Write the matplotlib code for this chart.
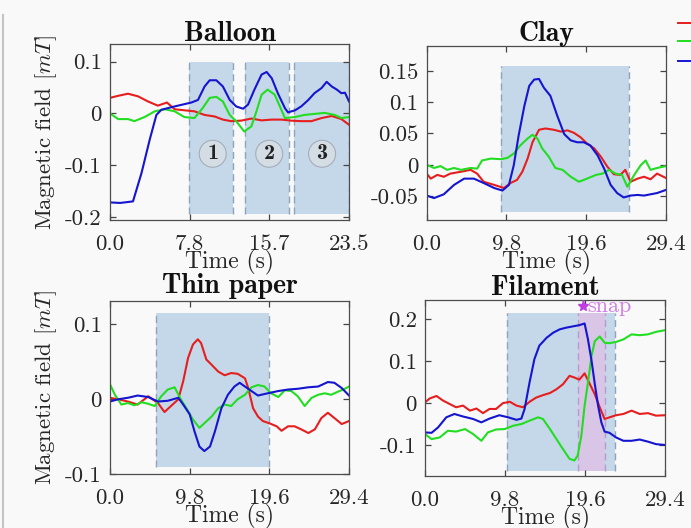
import matplotlib
matplotlib.use('Agg')
import matplotlib.pyplot as plt
from matplotlib.lines import Line2D

plt.rcParams['font.family'] = 'cmr10'
plt.rcParams['mathtext.fontset'] = 'cm'
plt.rcParams['axes.unicode_minus'] = False
plt.rcParams['font.size'] = 16.5

# couleurs des trois axes du capteur
c_red, c_green, c_blue = '#e61e1e', '#22dd22', '#1515d0'
span_col = '#c5d8ea'
span_edge = '#8ea4b9'
bg = '#f9f9f9'
txt_col = '#262626'

# --- Balloon ---
balloon_t_blue = [0.0, 1.0, 2.26, 3.1, 3.9, 4.56, 5.05, 6.36, 8.0, 8.65, 9.3, 9.8, 10.45, 11.1, 11.77,
                  12.4, 13.08, 13.57, 14.2, 14.9, 15.4, 15.9, 16.5, 17.2, 17.5, 18.2, 18.8, 19.5,
                  20.1, 20.8, 21.3, 21.8, 22.3, 22.75, 23.1, 23.5]
balloon_blue = [-0.172, -0.173, -0.170, -0.115, -0.051, -0.003, 0.007, 0.0135, 0.021, 0.026, 0.052,
                0.064, 0.064, 0.052, 0.026, 0.0135, 0.009, 0.017, 0.046, 0.075, 0.080, 0.068, 0.039,
                0.010, 0.002, 0.006, 0.0135, 0.026, 0.039, 0.049, 0.061, 0.052, 0.046, 0.039, 0.040, 0.023]
balloon_t_red = [0.0, 0.8, 1.77, 2.75, 3.74, 4.7, 5.6, 6.36, 7.3, 8.3, 9.3, 10.3, 11.1, 11.9, 12.9,
                 13.9, 14.9, 15.9, 16.85, 17.8, 18.8, 19.8, 20.8, 21.8, 22.75, 23.5]
balloon_red = [0.030, 0.034, 0.038, 0.033, 0.023, 0.015, 0.021, 0.008, 0.006, 0.004, -0.003, -0.006,
               -0.012, -0.015, -0.014, -0.010, -0.0135, -0.012, -0.012, -0.014, -0.015, -0.015,
               -0.009, -0.005, -0.011, -0.022]
balloon_t_green = [0.0, 0.8, 1.77, 2.4, 3.4, 4.4, 5.4, 6.36, 7.3, 8.3, 9.1, 9.8, 10.45, 11.1, 11.77,
                   12.4, 13.2, 13.9, 14.4, 14.9, 15.5, 16.2, 16.7, 17.2, 18.2, 19.1, 20.1, 21.1,
                   22.1, 22.75, 23.5]
balloon_green = [0.0, -0.011, -0.011, -0.015, -0.007, 0.004, 0.008, 0.004, -0.007, -0.009, 0.010,
                 0.030, 0.032, 0.023, -0.003, -0.015, -0.035, -0.025, 0.004, 0.036, 0.046, 0.036,
                 0.0135, -0.009, -0.007, -0.003, -0.001, 0.001, -0.003, -0.009, -0.007]
balloon_windows = [(7.8, 12.1), (13.3, 17.6), (18.1, 23.5)]
balloon_window_labels = ['1', '2', '3']
balloon_label_t = [10.1, 15.65, 20.85]

# --- Clay ---
clay_t_blue = [0.0, 0.9, 2.1, 3.36, 4.6, 5.8, 7.0, 8.3, 9.3, 10.1, 10.7, 11.3, 12.0, 12.6, 13.2, 13.8,
               14.4, 15.2, 16.05, 16.9, 17.7, 18.5, 19.3, 20.1, 21.0, 21.8, 22.6, 23.4, 24.2, 25.05,
               25.9, 26.7, 27.5, 28.3, 29.4]
clay_blue = [-0.049, -0.053, -0.047, -0.032, -0.022, -0.022, -0.029, -0.037, -0.041, -0.032, -0.0005,
             0.047, 0.094, 0.126, 0.136, 0.137, 0.123, 0.110, 0.078, 0.049, 0.039, 0.036, 0.036, 0.031,
             0.015, -0.006, -0.032, -0.045, -0.052, -0.049, -0.048, -0.049, -0.047, -0.045, -0.040]
clay_t_red = [0.0, 0.5, 1.3, 2.1, 2.9, 4.2, 5.4, 6.2, 7.0, 8.3, 9.5, 10.3, 11.1, 11.75, 12.4, 13.0,
              13.8, 14.6, 15.6, 16.5, 17.3, 18.1, 18.9, 19.7, 20.6, 21.4, 22.2, 23.0, 23.8, 24.4,
              25.05, 25.9, 26.7, 27.5, 28.3, 29.4]
clay_red = [-0.014, -0.022, -0.016, -0.019, -0.014, -0.011, -0.008, -0.014, -0.027, -0.032, -0.037,
            -0.029, -0.024, -0.011, 0.010, 0.036, 0.056, 0.058, 0.056, 0.053, 0.055, 0.051, 0.044,
            0.034, 0.026, 0.013, -0.003, -0.015, -0.016, -0.008, -0.027, -0.022, -0.019, -0.023,
            -0.014, -0.021]
clay_t_green = [0.0, 0.9, 1.7, 2.5, 3.36, 4.2, 5.4, 6.2, 6.8, 7.9, 9.1, 9.9, 10.7, 11.5, 12.4, 13.0,
                13.6, 14.2, 15.0, 15.8, 16.7, 17.7, 18.7, 19.7, 20.8, 21.6, 22.4, 23.2, 24.0, 24.65,
                25.5, 26.3, 26.9, 27.5, 28.3, 29.4]
clay_green = [0.0, -0.005, -0.002, -0.008, -0.005, -0.008, -0.005, -0.006, 0.007, 0.010, 0.009, 0.011,
              0.018, 0.031, 0.042, 0.048, 0.042, 0.026, 0.013, -0.005, -0.008, -0.019, -0.027, -0.022,
              -0.016, -0.014, -0.008, -0.014, -0.016, -0.035, -0.016, -0.0005, 0.007, -0.008, -0.005,
              -0.002]
clay_windows = [(9.1, 24.9)]

# --- Thin paper ---
paper_t_blue = [0.0, 1.0, 2.2, 3.4, 4.7, 5.9, 7.1, 8.4, 9.0, 9.8, 10.4, 11.0, 11.6, 12.3, 12.9, 13.7,
                14.5, 15.3, 15.95, 16.6, 17.4, 18.2, 19.4, 20.7, 21.9, 23.1, 24.4, 25.6, 26.8, 27.6,
                28.5, 29.4]
paper_blue = [-0.003, 0.0, 0.002, 0.005, 0.003, -0.003, -0.002, 0.002, -0.007, -0.020, -0.043, -0.063,
              -0.069, -0.063, -0.043, -0.012, 0.006, 0.017, 0.022, 0.017, 0.011, 0.005, 0.008, 0.011,
              0.013, 0.014, 0.016, 0.017, 0.023, 0.022, 0.015, 0.005]
paper_t_red = [0.0, 1.0, 2.2, 3.4, 4.7, 5.9, 6.7, 7.5, 8.4, 9.0, 9.6, 10.2, 10.8, 11.2, 11.85, 12.5,
               13.3, 14.1, 14.9, 15.7, 16.6, 17.0, 17.6, 18.2, 18.8, 19.6, 20.5, 21.1, 21.9, 22.7,
               23.5, 24.4, 25.2, 26.0, 26.8, 27.6, 28.5, 29.4]
paper_red = [0.002, 0.0, -0.003, -0.007, 0.004, -0.005, -0.017, -0.009, 0.0, 0.024, 0.055, 0.073,
             0.080, 0.075, 0.053, 0.046, 0.037, 0.032, 0.035, 0.034, 0.028, 0.015, -0.012, -0.023,
             -0.029, -0.032, -0.036, -0.042, -0.036, -0.036, -0.040, -0.045, -0.040, -0.025, -0.018,
             -0.025, -0.033, -0.029]
paper_t_green = [0.0, 0.6, 1.4, 2.2, 3.0, 3.9, 4.7, 5.5, 6.3, 7.1, 7.95, 8.6, 9.4, 10.2, 11.0, 11.6,
                 12.5, 13.3, 14.1, 14.9, 15.7, 16.6, 17.4, 18.2, 19.0, 19.8, 20.7, 21.5, 22.3, 23.1,
                 23.95, 24.8, 25.6, 26.4, 27.2, 28.0, 28.7, 29.4]
paper_green = [0.020, 0.006, -0.007, -0.005, -0.008, -0.004, -0.006, -0.009, 0.004, 0.013, 0.016,
               0.002, -0.012, -0.027, -0.038, -0.032, -0.023, -0.012, -0.007, -0.009, 0.0, 0.006,
               0.016, 0.019, 0.017, 0.008, 0.003, 0.012, 0.011, 0.004, -0.009, 0.002, 0.006, 0.008,
               0.006, 0.010, 0.013, 0.017]
paper_windows = [(5.66, 19.56)]

# --- Filament ---
fil_t_blue = [0.0, 0.8, 1.6, 2.6, 3.6, 4.65, 5.9, 6.9, 7.9, 9.1, 10.2, 11.2, 11.8, 12.2, 12.8, 13.4,
              14.0, 14.9, 15.7, 16.5, 17.3, 18.1, 18.9, 19.55, 19.96, 20.4, 20.8, 21.2, 21.6, 22.0,
              22.6, 23.4, 24.3, 25.3, 26.3, 27.3, 28.3, 29.4]
fil_blue = [-0.070, -0.071, -0.058, -0.034, -0.026, -0.032, -0.038, -0.046, -0.037, -0.029, -0.034,
            -0.040, -0.037, -0.014, 0.049, 0.105, 0.137, 0.156, 0.168, 0.176, 0.180, 0.183, 0.186,
            0.190, 0.152, 0.101, 0.045, -0.006, -0.046, -0.068, -0.071, -0.082, -0.090, -0.090,
            -0.087, -0.092, -0.098, -0.100]
fil_t_red = [0.0, 0.57, 1.4, 2.2, 3.0, 3.8, 4.65, 5.5, 6.3, 7.1, 7.9, 8.7, 9.55, 10.4, 11.2, 12.0,
             12.8, 13.6, 14.45, 15.3, 16.1, 16.9, 17.7, 18.3, 18.9, 19.55, 20.2, 20.8, 21.4, 22.0,
             22.6, 23.4, 24.3, 25.3, 26.3, 27.3, 28.3, 29.4]
fil_red = [0.002, 0.011, 0.017, 0.006, -0.002, -0.010, -0.006, -0.018, -0.013, -0.024, -0.014, -0.014,
           0.0, 0.003, -0.006, -0.010, 0.003, 0.013, 0.019, 0.024, 0.033, 0.045, 0.065, 0.061, 0.056,
           0.071, 0.045, 0.021, -0.010, -0.038, -0.034, -0.029, -0.026, -0.018, -0.026, -0.024,
           -0.030, -0.029]
fil_t_green = [0.0, 0.8, 1.8, 2.8, 3.8, 4.9, 5.9, 6.9, 7.7, 8.7, 9.76, 10.8, 11.8, 12.8, 13.85, 14.45,
               15.3, 16.1, 16.9, 17.7, 18.3, 18.7, 19.15, 19.55, 19.96, 20.4, 20.8, 21.4, 22.0, 22.6,
               23.4, 24.3, 25.3, 26.3, 27.3, 28.3, 29.4]
fil_green = [-0.074, -0.086, -0.082, -0.066, -0.068, -0.062, -0.074, -0.090, -0.070, -0.063, -0.062,
             -0.054, -0.050, -0.042, -0.034, -0.038, -0.062, -0.086, -0.110, -0.133, -0.137, -0.125,
             -0.078, -0.006, 0.049, 0.113, 0.148, 0.159, 0.144, 0.143, 0.146, 0.152, 0.164, 0.162,
             0.164, 0.170, 0.174]
fil_windows = [(10.0, 23.3)]
snap_window = (18.7, 22.05)
snap_t, snap_v = 19.4, 0.232


def style_axes(ax, xlim, xticks, xlabels, ylim, yticks, ylabels):
    ax.set_facecolor(bg)
    ax.set_xlim(xlim)
    ax.set_ylim(ylim)
    ax.set_xticks(xticks, xlabels)
    ax.set_yticks(yticks, ylabels)
    ax.tick_params(direction='in', top=True, right=True, length=4, width=0.9,
                   color='#444444', labelcolor=txt_col, labelsize=16.5)
    ax.tick_params(axis='x', pad=10.5)
    ax.tick_params(axis='y', pad=6)
    for s in ax.spines.values():
        s.set_color('#4d4d4d')
        s.set_linewidth(0.9)
    ax.set_xlabel('Time (s)', color=txt_col, labelpad=-3, fontsize=17)


def windows(ax, wins, lo, hi, fc=span_col, ec=span_edge):
    for a, b in wins:
        ax.fill_between([a, b], lo, hi, color=fc, lw=0, zorder=0.5)
        ax.vlines([a, b], lo, hi, colors=ec, linestyles=(0, (5, 3)), lw=1.0, zorder=0.6)


def traces(ax, tr, r, tg, g, tb, b):
    ax.plot(tr, r, color=c_red, lw=1.5, zorder=2)
    ax.plot(tg, g, color=c_green, lw=1.5, zorder=2)
    ax.plot(tb, b, color=c_blue, lw=1.5, zorder=2.1)


fig = plt.figure(figsize=(6.91, 5.28), dpi=100, facecolor=bg)

ax1 = fig.add_axes([0.1592, 0.5833, 0.3459, 0.3333])
ax2 = fig.add_axes([0.6175, 0.5833, 0.3463, 0.3301])
ax3 = fig.add_axes([0.1592, 0.1017, 0.3459, 0.3282])
ax4 = fig.add_axes([0.6151, 0.0985, 0.3473, 0.3333])

title_kw = dict(family='cmb10', fontsize=20, color='#111111')

# Balloon
windows(ax1, balloon_windows, -0.195, 0.1)
traces(ax1, balloon_t_red, balloon_red, balloon_t_green, balloon_green, balloon_t_blue, balloon_blue)
for lab, tc in zip(balloon_window_labels, balloon_label_t):
    ax1.text(tc, -0.078, lab, ha='center', va='center', family='cmb10', fontsize=16, color='#222222',
             bbox=dict(boxstyle='circle,pad=0.18', fc='#d4dce4', ec='#a3aeb8', lw=0.8), zorder=3)
style_axes(ax1, (0, 23.5), [0, 7.833, 15.667, 23.5], ['0.0', '7.8', '15.7', '23.5'],
           (-0.206, 0.134), [-0.2, -0.1, 0, 0.1], ['-0.2', '-0.1', '0', '0.1'])
ax1.set_title('Balloon', pad=2.2, **title_kw)
ax1.set_ylabel(r'Magnetic field $[mT]$', color=txt_col, labelpad=4)

# Clay
windows(ax2, clay_windows, -0.076, 0.158)
traces(ax2, clay_t_red, clay_red, clay_t_green, clay_green, clay_t_blue, clay_blue)
style_axes(ax2, (0, 29.4), [0, 9.8, 19.6, 29.4], ['0.0', '9.8', '19.6', '29.4'],
           (-0.088, 0.19), [-0.05, 0, 0.05, 0.1, 0.15], ['-0.05', '0', '0.05', '0.1', '0.15'])
ax2.set_title('Clay', pad=3.6, **title_kw)

# Thin paper
windows(ax3, paper_windows, -0.09, 0.115)
traces(ax3, paper_t_red, paper_red, paper_t_green, paper_green, paper_t_blue, paper_blue)
style_axes(ax3, (0, 29.4), [0, 9.8, 19.6, 29.4], ['0.0', '9.8', '19.6', '29.4'],
           (-0.1, 0.131), [-0.1, 0, 0.1], ['-0.1', '0', '0.1'])
ax3.set_title('Thin paper', pad=5.5, **title_kw)
ax3.set_ylabel(r'Magnetic field $[mT]$', color=txt_col, labelpad=4)

# Filament
windows(ax4, fil_windows, -0.161, 0.214)
ax4.fill_between(list(snap_window), -0.161, 0.214, color='#d9c5e5', lw=0, zorder=0.7)
ax4.vlines(list(snap_window), -0.161, 0.214, colors='#b59ccd', linestyles=(0, (5, 3)), lw=1.0, zorder=0.8)
traces(ax4, fil_t_red, fil_red, fil_t_green, fil_green, fil_t_blue, fil_blue)
ax4.plot([snap_t], [snap_v], marker='*', ms=8, color='#c03ee0', lw=0, zorder=3)
ax4.text(snap_t + 0.45, snap_v, 'snap', color='#d27ee8', fontsize=16, va='center', ha='left', zorder=3)
style_axes(ax4, (0, 29.4), [0, 9.8, 19.6, 29.4], ['0.0', '9.8', '19.6', '29.4'],
           (-0.174, 0.246), [-0.1, 0, 0.1, 0.2], ['-0.1', '0', '0.1', '0.2'])
ax4.set_title('Filament', pad=3.6, **title_kw)

# legende (coupee par le bord droit)
handles = [Line2D([], [], color=c, lw=1.4) for c in (c_red, c_green, c_blue)]
fig.legend(handles, ['$x$', '$y$', '$z$'], loc='upper left', bbox_to_anchor=(0.981, 0.966),
           frameon=False, fontsize=9, borderpad=0, borderaxespad=0, handlelength=2,
           labelspacing=0.5)

# bord gauche de la capture
fig.add_artist(Line2D([0.005, 0.005], [0.0, 0.972], color='#c4c4c4', lw=1.5))

fig.savefig('out.png', dpi=100, facecolor=bg)
